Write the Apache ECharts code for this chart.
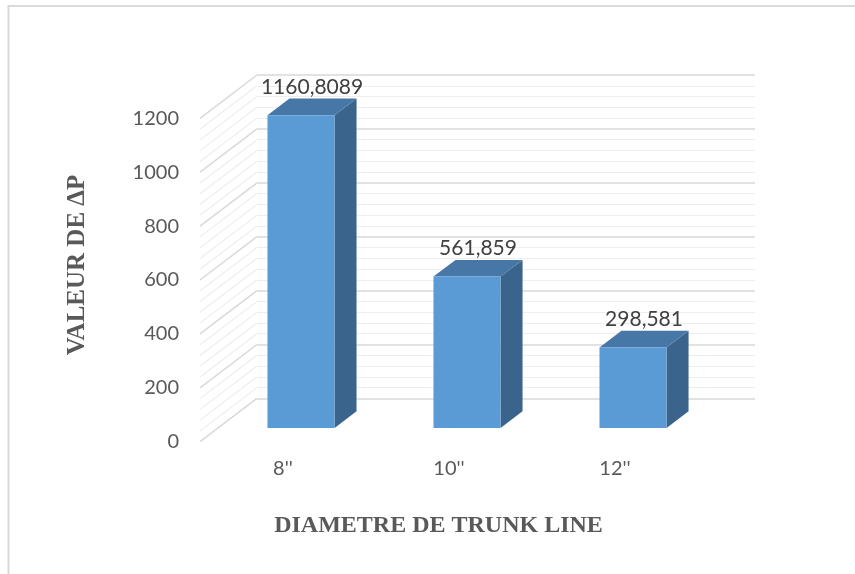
<!DOCTYPE html>
<html>
<head>
<meta charset="utf-8">
<script src="https://cdn.jsdelivr.net/npm/echarts@6/dist/echarts.min.js"></script>
<style>
  html, body { margin: 0; padding: 0; background: #ffffff; }
  #chart { width: 855px; height: 574px; }
</style>
</head>
<body>
<div id="chart"></div>
<script>
// Pressure drop per trunk-line diameter
const categories = ["8''", "10''", "12''"];
const deltaP = [1160.8089, 561.859, 298.581];
const yTicks = [0, 200, 400, 600, 800, 1000, 1200];

const Y_MAX = 1200;
const Y_STEP = 200;
const MINOR_PER_MAJOR = 5;

// oblique projection of the floor depth (pixels)
const DEPTH_X = 57;
const DEPTH_Y = 43.3;
// bar placement inside the depth
const BAR_OFFSET = 0.316;   // fraction of depth in front of the bar
const BAR_DEPTH = 0.386;    // fraction of depth taken by the bar
const BAR_WIDTH = 0.404;    // fraction of category band

const FRONT = { left: 200, right: 157, top: 118.3, bottom: 132.3 };
const BACK = {
  left: FRONT.left + DEPTH_X,
  right: FRONT.right - DEPTH_X,
  top: FRONT.top - DEPTH_Y,
  bottom: FRONT.bottom + DEPTH_Y
};

const BLUE_FRONT = '#5B9BD5';
const BLUE_TOP = '#4677A7';
const BLUE_SIDE = '#3A648C';
const GRID_MAJOR = '#d9d9d9';
const GRID_MINOR = '#eeeeee';

const formatComma = v => String(v).replace('.', ',');

const chart = echarts.init(document.getElementById('chart'), null, { renderer: 'canvas' });

// side-wall diagonals, one major line and its minor lines per tick
function renderSideWall(params, api) {
  const base = api.value(1);
  const cs = params.coordSys;
  const minorStep = Y_STEP / MINOR_PER_MAJOR;
  const children = [];
  for (let k = 0; k < MINOR_PER_MAJOR; k++) {
    const val = base + k * minorStep;
    if (val > Y_MAX) break;
    const y = api.coord([0, val])[1];
    children.push({
      type: 'line',
      shape: { x1: cs.x, y1: y, x2: cs.x + DEPTH_X, y2: y - DEPTH_Y },
      style: { stroke: k === 0 ? GRID_MAJOR : GRID_MINOR, lineWidth: k === 0 ? 1.5 : 1.2 }
    });
  }
  return { type: 'group', children };
}

// 3D column: front face, right side, top and value label
function renderBar(params, api) {
  const idx = api.value(0);
  const val = api.value(1);
  const pBase = api.coord([idx, 0]);
  const pTop = api.coord([idx, val]);
  const band = api.size([1, 0])[0];
  const w = band * BAR_WIDTH;
  const ox = DEPTH_X * BAR_OFFSET, oy = -DEPTH_Y * BAR_OFFSET;
  const dx = DEPTH_X * BAR_DEPTH, dy = -DEPTH_Y * BAR_DEPTH;
  const xl = pBase[0] - w / 2 + ox;
  const xr = xl + w;
  const yb = pBase[1] + oy;
  const yt = pTop[1] + oy;
  return {
    type: 'group',
    children: [
      {
        type: 'polygon',
        shape: { points: [[xr, yt], [xr + dx, yt + dy], [xr + dx, yb + dy], [xr, yb]] },
        style: { fill: BLUE_SIDE }
      },
      {
        type: 'polygon',
        shape: { points: [[xl, yt], [xl + dx, yt + dy], [xr + dx, yt + dy], [xr, yt]] },
        style: { fill: BLUE_TOP }
      },
      {
        type: 'rect',
        shape: { x: xl, y: yt, width: w, height: yb - yt },
        style: { fill: BLUE_FRONT }
      },
      {
        type: 'text',
        x: (xl + xr + dx) / 2,
        y: yt + dy - 1,
        style: {
          text: formatComma(val),
          align: 'center',
          verticalAlign: 'bottom',
          font: '21px Lato',
          fill: '#404040'
        }
      }
    ]
  };
}

chart.setOption({
  backgroundColor: '#ffffff',
  animation: false,
  grid: [
    { left: FRONT.left, right: FRONT.right, top: FRONT.top, bottom: FRONT.bottom },
    { left: BACK.left, right: BACK.right, top: BACK.top, bottom: BACK.bottom }
  ],
  xAxis: [
    {
      type: 'category',
      gridIndex: 0,
      data: categories,
      axisLine: { show: false },
      axisTick: { show: false },
      axisLabel: { margin: 17, fontFamily: 'Lato', fontSize: 20, color: '#595959' }
    },
    {
      type: 'category',
      gridIndex: 1,
      data: categories,
      show: false
    }
  ],
  yAxis: [
    {
      type: 'value',
      gridIndex: 0,
      min: 0,
      max: Y_MAX,
      interval: Y_STEP,
      axisLine: { show: false },
      axisTick: { show: false },
      splitLine: { show: false },
      axisLabel: {
        margin: 21,
        fontFamily: 'Lato',
        fontSize: 20,
        color: '#595959',
        formatter: v => String(v)
      }
    },
    {
      type: 'value',
      gridIndex: 1,
      min: 0,
      max: Y_MAX,
      interval: Y_STEP,
      axisLine: { show: false },
      axisTick: { show: false },
      axisLabel: { show: false },
      splitLine: { show: true, lineStyle: { color: GRID_MAJOR, width: 1.5 } },
      minorTick: { show: false, splitNumber: MINOR_PER_MAJOR },
      minorSplitLine: { show: true, lineStyle: { color: GRID_MINOR, width: 1.2 } }
    }
  ],
  series: [
    {
      type: 'custom',
      name: 'side wall',
      xAxisIndex: 0,
      yAxisIndex: 0,
      z: 1,
      silent: true,
      renderItem: renderSideWall,
      data: yTicks.map(v => [0, v])
    },
    {
      type: 'custom',
      name: 'ΔP',
      xAxisIndex: 0,
      yAxisIndex: 0,
      z: 5,
      renderItem: renderBar,
      data: deltaP.map((v, i) => [i, v])
    }
  ],
  graphic: [
    {
      type: 'line',
      shape: { x1: 8.5, y1: 6, x2: 8.5, y2: 574 },
      style: { stroke: '#d9d9d9', lineWidth: 2 }
    },
    {
      type: 'line',
      shape: { x1: 7.5, y1: 6, x2: 855, y2: 6 },
      style: { stroke: '#d9d9d9', lineWidth: 2 }
    },
    {
      type: 'text',
      x: 78,
      y: 265,
      rotation: Math.PI / 2,
      style: {
        text: 'VALEUR DE ΔP',
        align: 'center',
        verticalAlign: 'middle',
        font: 'bold 25px "Liberation Serif"',
        fill: '#595959'
      }
    },
    {
      type: 'text',
      x: 438.5,
      y: 526,
      style: {
        text: 'DIAMETRE DE TRUNK LINE',
        align: 'center',
        verticalAlign: 'middle',
        font: 'bold 24px "Liberation Serif"',
        fill: '#595959'
      }
    }
  ]
});
</script>
</body>
</html>
